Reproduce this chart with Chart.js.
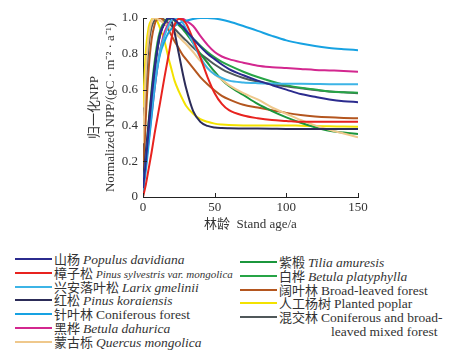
<!DOCTYPE html>
<html>
<head>
<meta charset="utf-8">
<script src="https://cdn.jsdelivr.net/npm/chart.js@4"></script>
<style>
  body { margin: 0; background: #fff; }
  #wrap { position: relative; width: 468px; height: 362px; }
  #box { position: absolute; left: 0; top: 0; width: 468px; height: 232px; }
  #legend { position: absolute; left: 15px; top: 252px; width: 450px; }
  .col { position: absolute; top: 0; }
  .row { position: relative; height: 13.8px; line-height: 13.8px; white-space: nowrap;
         font-family: "Liberation Serif", "Times New Roman", "DejaVu Serif", serif; font-size: 13.5px; color: #333; }
  .row .sw { position: absolute; left: 0; top: 6px; width: 37px; height: 2px; }
  .row .tx { position: absolute; left: 39px; top: 0; }
  .cn { font-family: "Noto Sans CJK SC", sans-serif; font-size: 13px; }
</style>
</head>
<body>
<div id="wrap">
  <div id="box"><canvas id="npp"></canvas></div>
  <div id="legend"></div>
</div>
<script>
// stand age (years)
let ages = [0,2,4,6,8,10,12,15,18,20,22,25,28,30,35,40,45,50,55,60,70,80,90,100,110,120,130,140,150];

// normalized NPP per forest type
let shanyang   = [0.05,0.2,0.38,0.55,0.7,0.82,0.91,0.97,1.0,1.0,0.99,0.97,0.95,0.93,0.885,0.84,0.8,0.77,0.74,0.715,0.68,0.65,0.625,0.6,0.575,0.56,0.545,0.535,0.53];
let zhangzisong = [0.0,0.07,0.16,0.25,0.35,0.44,0.53,0.67,0.8,0.89,0.96,0.995,0.99,0.97,0.88,0.78,0.67,0.58,0.52,0.485,0.455,0.44,0.43,0.425,0.42,0.42,0.42,0.42,0.42];
let luoyesong  = [0.05,0.2,0.36,0.5,0.62,0.73,0.82,0.9,0.96,0.99,1.0,1.0,0.97,0.94,0.86,0.78,0.72,0.685,0.665,0.65,0.64,0.636,0.634,0.633,0.632,0.631,0.63,0.63,0.63];
let hongsong   = [0.08,0.25,0.42,0.58,0.72,0.83,0.91,0.97,1.0,0.98,0.92,0.8,0.68,0.61,0.48,0.42,0.397,0.388,0.385,0.384,0.383,0.382,0.381,0.38,0.38,0.38,0.38,0.38,0.38];
let zhenyelin  = [0.03,0.15,0.3,0.45,0.6,0.72,0.8,0.87,0.92,0.94,0.955,0.97,0.98,0.985,0.995,1.0,1.0,0.997,0.99,0.98,0.955,0.928,0.9,0.875,0.857,0.843,0.833,0.826,0.82];
let heihua     = [0.05,0.18,0.32,0.46,0.6,0.72,0.82,0.92,0.97,0.99,1.0,1.0,0.995,0.985,0.955,0.9,0.85,0.81,0.785,0.77,0.75,0.733,0.725,0.72,0.715,0.71,0.707,0.704,0.7];
let mengguli   = [0.3,0.7,0.9,0.98,1.0,0.995,0.985,0.97,0.95,0.935,0.92,0.895,0.87,0.855,0.81,0.76,0.72,0.685,0.655,0.625,0.58,0.545,0.5,0.465,0.43,0.4,0.375,0.355,0.333];
let ziduan     = [0.05,0.2,0.38,0.55,0.7,0.82,0.91,0.97,0.995,1.0,0.99,0.965,0.935,0.915,0.86,0.8,0.75,0.7,0.655,0.62,0.57,0.52,0.48,0.445,0.415,0.39,0.37,0.36,0.352];
let baihua     = [0.05,0.22,0.42,0.6,0.75,0.86,0.93,0.98,1.0,0.995,0.985,0.96,0.94,0.925,0.885,0.845,0.81,0.78,0.755,0.735,0.7,0.67,0.645,0.625,0.61,0.6,0.59,0.585,0.583];
let kuoyelin   = [0.1,0.45,0.72,0.88,0.96,0.995,1.0,0.98,0.93,0.9,0.87,0.83,0.79,0.77,0.72,0.67,0.63,0.595,0.565,0.545,0.515,0.5,0.485,0.47,0.458,0.45,0.445,0.442,0.44];
let yangshu    = [0.5,0.82,0.95,0.99,1.0,0.98,0.94,0.87,0.77,0.71,0.65,0.59,0.54,0.51,0.465,0.435,0.42,0.41,0.405,0.402,0.4,0.4,0.4,0.4,0.398,0.396,0.395,0.394,0.393];
let hunjiaolin = [0.1,0.6,0.85,0.95,0.985,1.0,1.0,0.99,0.97,0.955,0.94,0.915,0.89,0.875,0.835,0.8,0.77,0.74,0.715,0.695,0.665,0.645,0.63,0.618,0.607,0.598,0.59,0.585,0.58];

let seriesValues = [shanyang, zhangzisong, luoyesong, hongsong, zhenyelin, heihua, mengguli,
                    ziduan, baihua, kuoyelin, yangshu, hunjiaolin];
let cnNames = ['山杨','樟子松','兴安落叶松','红松','针叶林','黑桦','蒙古栎',
               '紫椴','白桦','阔叶林','人工杨树','混交林'];
let enNames = ['Populus davidiana','Pinus sylvestris var. mongolica','Larix gmelinii','Pinus koraiensis',
               'Coniferous forest','Betula dahurica','Quercus mongolica',
               'Tilia amuresis','Betula platyphylla','Broad-leaved forest','Planted poplar',
               'Coniferous and broad-leaved mixed forest'];
let enItalic = [true,true,true,true,false,true,true,true,true,false,false,false];
let lineColors = ['#2b2b8e','#e8231f','#3cb4e6','#2c2c58','#17a2e2','#d3278f','#efc88c',
                  '#1b963c','#26a446','#b4561f','#f3e200','#50585a'];

let yTicks = [0, 0.2, 0.4, 0.6, 0.8, 1.0];
let xTicks = [0, 50, 100, 150];

let datasets = [];
for (let i = 0; i < seriesValues.length; i++) {
    let pts = [];
    for (let j = 0; j < ages.length; j++) {
        pts.push({x: ages[j], y: seriesValues[i][j]});
    }
    datasets.push({
        label: cnNames[i] + ' ' + enNames[i],
        data: pts,
        borderColor: lineColors[i],
        backgroundColor: lineColors[i],
        borderWidth: 2,
        pointRadius: 0,
        cubicInterpolationMode: 'monotone',
        fill: false
    });
}

// small inward tick marks like the original figure
let innerTicks = {
    id: 'innerTicks',
    afterDraw(chart) {
        let c = chart.ctx, xs = chart.scales.x, ys = chart.scales.y;
        c.save();
        c.strokeStyle = '#222';
        c.lineWidth = 1;
        xTicks.forEach(v => {
            let px = Math.round(xs.getPixelForValue(v)) + 0.5;
            c.beginPath(); c.moveTo(px, ys.bottom); c.lineTo(px, ys.bottom - 4); c.stroke();
        });
        yTicks.forEach(v => {
            let py = Math.round(ys.getPixelForValue(v)) + 0.5;
            c.beginPath(); c.moveTo(xs.left, py); c.lineTo(xs.left + 4, py); c.stroke();
        });
        c.restore();
    }
};

let serif = "'Liberation Serif', 'Times New Roman', 'DejaVu Serif', serif";
let mixed = "'Liberation Serif', 'Times New Roman', 'Noto Sans CJK SC', serif";
let ctx = document.getElementById('npp').getContext('2d');
let chart = new Chart(ctx, {
    type: 'line',
    data: { datasets: datasets },
    options: {
        responsive: true,
        maintainAspectRatio: false,
        animation: false,
        layout: { padding: { left: 87, right: 110, top: 18, bottom: 0 } },
        plugins: { legend: { display: false }, tooltip: { enabled: false } },
        scales: {
            x: {
                type: 'linear', min: 0, max: 150,
                afterBuildTicks: s => { s.ticks = xTicks.map(v => ({value: v})); },
                afterFit: s => { s.height = 35; },
                grid: { display: false, drawTicks: false },
                border: { color: '#222', width: 1 },
                ticks: { color: '#333', font: { family: serif, size: 13 }, padding: 3, maxRotation: 0 },
                title: { display: true, text: '林龄  Stand age/a', color: '#333',
                         font: { family: mixed, size: 13 }, padding: { top: 0, bottom: 0 } }
            },
            y: {
                min: 0, max: 1,
                afterBuildTicks: s => { s.ticks = yTicks.map(v => ({value: v})); },
                afterFit: s => { s.width = 56; },
                grid: { display: false, drawTicks: false },
                border: { color: '#222', width: 1 },
                ticks: { color: '#333', font: { family: serif, size: 13 }, padding: 5,
                         callback: v => v === 0 ? '0' : v.toFixed(1) },
                title: { display: true, text: ['归一化NPP', 'Normalized NPP/(gC · m⁻² · a⁻¹)'], color: '#333',
                         font: { family: mixed, size: 13 }, padding: 0 }
            }
        }
    },
    plugins: [innerTicks]
});

// two-column legend under the chart
let legend = document.getElementById('legend');
let leftCol = document.createElement('div'); leftCol.className = 'col'; leftCol.style.left = '0px'; leftCol.style.top = '0px';
let rightCol = document.createElement('div'); rightCol.className = 'col'; rightCol.style.left = '225px'; rightCol.style.top = '3px';
legend.appendChild(leftCol); legend.appendChild(rightCol);
for (let i = 0; i < cnNames.length; i++) {
    let row = document.createElement('div'); row.className = 'row';
    let sw = document.createElement('div'); sw.className = 'sw'; sw.style.background = lineColors[i];
    let tx = document.createElement('div'); tx.className = 'tx';
    let cn = document.createElement('span'); cn.className = 'cn'; cn.textContent = cnNames[i] + ' ';
    let en = document.createElement('span'); en.textContent = enNames[i];
    if (enItalic[i]) en.style.fontStyle = 'italic';
    if (i === 1) en.style.fontSize = '11px';
    if (i === 11) {
        en.innerHTML = 'Coniferous and broad-<br><span style="padding-left:52px">leaved mixed forest</span>';
    }
    tx.appendChild(cn); tx.appendChild(en);
    row.appendChild(sw); row.appendChild(tx);
    (i < 7 ? leftCol : rightCol).appendChild(row);
}
</script>
</body>
</html>
